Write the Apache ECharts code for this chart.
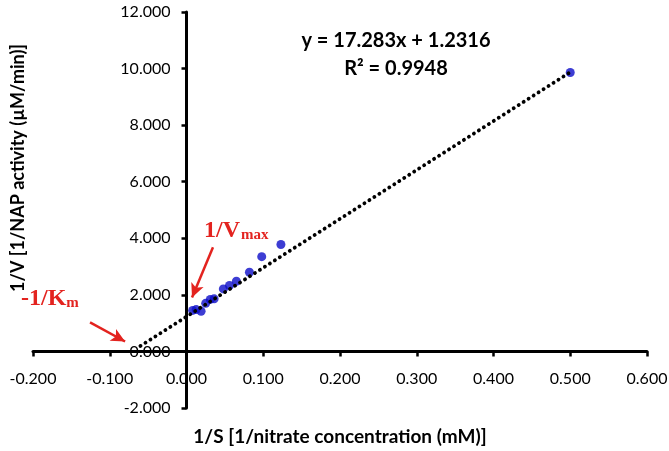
<!DOCTYPE html>
<html>
<head>
<meta charset="utf-8">
<script src="https://cdn.jsdelivr.net/npm/echarts@6/dist/echarts.min.js"></script>
<style>html,body{margin:0;padding:0;background:#fff}#c{width:669px;height:451px}</style>
</head>
<body>
<div id="c"></div>
<script>
// Data (Lineweaver-Burk plot)
const invS = [0.008, 0.0126, 0.019, 0.025, 0.031, 0.036, 0.048, 0.056, 0.065, 0.082, 0.098, 0.123, 0.500];
const invV = [1.45, 1.48, 1.42, 1.70, 1.84, 1.86, 2.21, 2.33, 2.48, 2.80, 3.35, 3.78, 9.86];
// Linear trendline endpoints (dotted), y = 17.283x + 1.2316
const trendX = [-0.060, 0.500];
const trendY = [0.194, 9.873];
// Axis ranges / ticks
const xTicks = [-0.2, -0.1, 0.0, 0.1, 0.2, 0.3, 0.4, 0.5, 0.6];
const yTicks = [-2, 0, 2, 4, 6, 8, 10, 12];
// Annotation arrows (data coords): [start, tip]
const arrowVmax = [[0.0345, 3.68], [0.0072, 1.91]];
const arrowKm = [[-0.1257, 1.03], [-0.080, 0.35]];
const eqText = 'y = 17.283x + 1.2316';
const r2Text = 'R² = 0.9948';
const xTitle = '1/S [1/nitrate concentration (mM)]';
const yTitle = '1/V [1/NAP activity (µM/min)]';

const W = 669, H = 451;
const G = {left: 33, right: 22, top: 12, bottom: 43};
const xMin = xTicks[0], xMax = xTicks[xTicks.length - 1];
const yMin = yTicks[0], yMax = yTicks[yTicks.length - 1];
const gw = W - G.left - G.right, gh = H - G.top - G.bottom;
// axes cross at zero: shift each axis from its grid edge to the zero of the other axis
const yAxisOffset = -gw * (0 - xMin) / (xMax - xMin);
const xAxisOffset = -gh * (0 - yMin) / (yMax - yMin);

const chart = echarts.init(document.getElementById('c'), null, {renderer: 'canvas'});
const FONT = 'Lato';
const RED = '#e3231f';
const axisCommon = {
  axisLine: {onZero: false, lineStyle: {color: '#000', width: 3}},
  axisTick: {show: true, inside: false, length: 5, lineStyle: {color: '#000', width: 2.5}},
  splitLine: {show: false},
  axisLabel: {color: '#000', fontFamily: FONT, fontSize: 16, formatter: v => v.toFixed(3)}
};
chart.setOption({
  animation: false,
  backgroundColor: '#fff',
  grid: Object.assign({containLabel: false, outerBoundsMode: 'none'}, G),
  xAxis: Object.assign({}, axisCommon, {
    type: 'value', min: xMin, max: xMax, interval: 0.1, position: 'bottom', offset: xAxisOffset,
    axisLabel: Object.assign({}, axisCommon.axisLabel, {margin: 19})
  }),
  yAxis: Object.assign({}, axisCommon, {
    type: 'value', min: yMin, max: yMax, interval: 2, position: 'left', offset: yAxisOffset,
    axisLabel: Object.assign({}, axisCommon.axisLabel, {margin: 16})
  }),
  series: [
    {
      type: 'scatter', name: 'data', z: 2,
      data: invS.map((x, i) => [x, invV[i]]),
      symbol: 'circle', symbolSize: 9,
      itemStyle: {color: '#0c0cc8'},
      markLine: {
        silent: true, symbol: ['none', 'arrow'], symbolSize: [10, 14],
        label: {show: false},
        lineStyle: {color: RED, width: 2.5, type: 'solid'},
        data: [
          [{coord: arrowVmax[0]}, {coord: arrowVmax[1]}],
          [{coord: arrowKm[0]}, {coord: arrowKm[1]}]
        ]
      }
    },
    {
      type: 'line', name: 'trend', z: 3,
      data: trendX.map((x, i) => [x, trendY[i]]),
      showSymbol: false, symbol: 'none',
      lineStyle: {color: '#000', width: 3.8, type: [0.1, 5.8], cap: 'round'}
    }
  ],
  graphic: [
    {type: 'text', x: 396, y: 41, style: {text: eqText, font: 'bold 20px Lato', fill: '#000', align: 'center', verticalAlign: 'middle'}},
    {type: 'text', x: 396, y: 69, style: {text: r2Text, font: 'bold 20px Lato', fill: '#000', align: 'center', verticalAlign: 'middle'}},
    {type: 'text', x: 340, y: 437, style: {text: xTitle, font: 'bold 19px Lato', fill: '#000', align: 'center', verticalAlign: 'middle'}},
    {type: 'text', x: 18, y: 168, rotation: Math.PI / 2, style: {text: yTitle, font: 'bold 18px Lato', fill: '#000', align: 'center', verticalAlign: 'middle'}},
    {type: 'text', x: 204, y: 243, style: {
      text: '{a|1/V}{b|max}', verticalAlign: 'bottom',
      rich: {
        a: {fontFamily: 'Liberation Serif', fontWeight: 'bold', fontSize: 24, fill: RED, color: RED, verticalAlign: 'bottom'},
        b: {fontFamily: 'Liberation Serif', fontWeight: 'bold', fontSize: 15, fill: RED, color: RED, verticalAlign: 'bottom', padding: [0, 0, 0, 1]}
      }
    }},
    {type: 'text', x: 21, y: 311, style: {
      text: '{a|-1/K}{b|m}', verticalAlign: 'bottom',
      rich: {
        a: {fontFamily: 'Liberation Serif', fontWeight: 'bold', fontSize: 24, fill: RED, color: RED, verticalAlign: 'bottom'},
        b: {fontFamily: 'Liberation Serif', fontWeight: 'bold', fontSize: 15, fill: RED, color: RED, verticalAlign: 'bottom'}
      }
    }}
  ]
});
</script>
</body>
</html>
